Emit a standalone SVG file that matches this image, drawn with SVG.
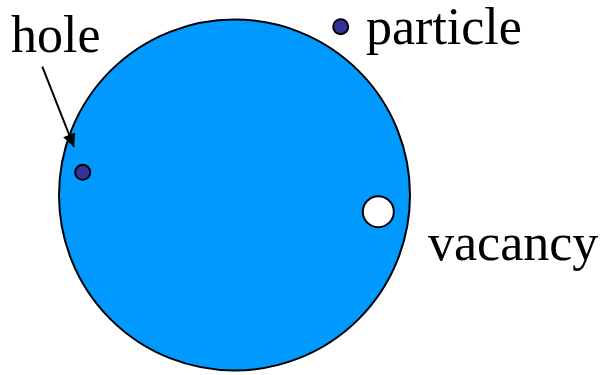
<svg xmlns="http://www.w3.org/2000/svg" width="604" height="375" viewBox="0 0 604 375">
<style>
text{font-family:"Liberation Serif","Times New Roman",serif;font-size:52px;fill:#000}
.dot{fill:#333399;stroke:#000;stroke-width:2}
</style>
<defs>
<marker id="ah" viewBox="0 0 10 10" refX="10" refY="5" markerWidth="7.5" markerHeight="6.5" orient="auto" markerUnits="strokeWidth"><path d="M0,0 L10,5 L0,10 z" fill="#000"/></marker>
</defs>
<g id="nucleus"><circle cx="234.5" cy="195" r="175.5" fill="#0099FF" stroke="#000" stroke-width="2"/></g>
<g id="hole-dot"><circle class="dot" cx="82.7" cy="172.3" r="7.5"/></g>
<g id="particle-dot"><circle class="dot" cx="340.7" cy="26.7" r="7.5"/></g>
<g id="vacancy-dot"><circle cx="378.3" cy="211.7" r="15.5" fill="#fff" stroke="#000" stroke-width="2"/></g>
<g id="connectors"><line x1="42.3" y1="66.7" x2="74" y2="147" stroke="#000" stroke-width="2" marker-end="url(#ah)"/></g>
<g id="labels">
<text x="11" y="52">hole</text>
<text x="366" y="44">particle</text>
<text x="428" y="260">vacancy</text>
</g>
</svg>
